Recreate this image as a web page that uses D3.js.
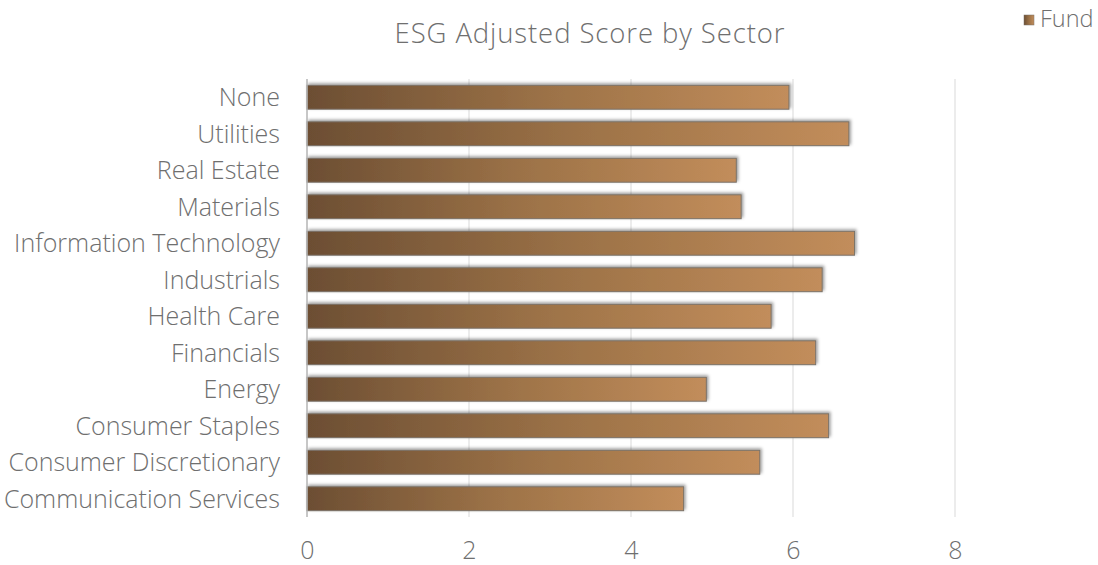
<!DOCTYPE html>
<html>
<head>
<meta charset="utf-8">
<script src="https://cdn.jsdelivr.net/npm/d3@7"></script>
<style>
  html, body { margin: 0; padding: 0; background: #fff; }
  svg { display: block; font-family: "Open Sans", sans-serif; font-weight: 300; }
</style>
</head>
<body>
<svg id="chart" width="1098" height="565"></svg>
<script>
// Sector names, top to bottom
const sectors = [
  "None", "Utilities", "Real Estate", "Materials", "Information Technology",
  "Industrials", "Health Care", "Financials", "Energy", "Consumer Staples",
  "Consumer Discretionary", "Communication Services"
];
// Fund ESG adjusted score per sector
const fundScores = [5.95, 6.69, 5.30, 5.36, 6.76, 6.36, 5.73, 6.28, 4.93, 6.44, 5.59, 4.65];
const xTicks = [0, 2, 4, 6, 8];
const seriesName = "Fund";
const chartTitle = "ESG Adjusted Score by Sector";

const svg = d3.select("#chart");
const textColor = "#6f6f6f";

const x = d3.scaleLinear().domain([0, 8]).range([307, 955]);
const y = d3.scaleBand().domain(sectors).range([79, 517]).paddingInner(0.345).paddingOuter(0.1725);

const defs = svg.append("defs");
const grad = defs.append("linearGradient").attr("id", "barFill")
  .attr("x1", "0%").attr("x2", "100%").attr("y1", "0%").attr("y2", "0%");
grad.append("stop").attr("offset", "0%").attr("stop-color", "#6c4e33");
grad.append("stop").attr("offset", "50%").attr("stop-color", "#9c7247");
grad.append("stop").attr("offset", "100%").attr("stop-color", "#c28d5b");

const shadow = defs.append("filter").attr("id", "barShadow")
  .attr("x", "-5%").attr("y", "-50%").attr("width", "110%").attr("height", "200%");
shadow.append("feDropShadow").attr("dx", 1.5).attr("dy", -1.5)
  .attr("stdDeviation", 1.8).attr("flood-color", "#000").attr("flood-opacity", 0.4);

// Vertical gridlines
svg.append("g").selectAll("line").data(xTicks.filter(d => d > 0)).join("line")
  .attr("x1", d => x(d)).attr("x2", d => x(d))
  .attr("y1", 79).attr("y2", 517)
  .attr("stroke", "#d9d9d9").attr("stroke-width", 1);

// Bars
svg.append("g").selectAll("rect").data(sectors).join("rect")
  .attr("x", x(0))
  .attr("y", d => y(d))
  .attr("width", (d, i) => x(fundScores[i]) - x(0))
  .attr("height", y.bandwidth())
  .attr("fill", "url(#barFill)")
  .attr("stroke", "#7a7269").attr("stroke-width", 1)
  .attr("filter", "url(#barShadow)");

// Category axis line
svg.append("line")
  .attr("x1", x(0)).attr("x2", x(0)).attr("y1", 79).attr("y2", 517)
  .attr("stroke", "#b5b5b5").attr("stroke-width", 1.5);

// Category labels
svg.append("g").selectAll("text").data(sectors).join("text")
  .attr("x", 280)
  .attr("y", d => y(d) + y.bandwidth() / 2 + 8.8)
  .attr("text-anchor", "end")
  .attr("font-size", 25)
  .attr("fill", textColor)
  .text(d => d);

// Value axis tick labels
const xAxis = svg.append("g").attr("transform", "translate(0,559)")
  .call(d3.axisBottom(x).tickValues(xTicks).tickSize(0).tickPadding(0));
xAxis.select(".domain").remove();
xAxis.selectAll("text")
  .attr("dy", 0).attr("y", 0)
  .attr("font-family", "Open Sans, sans-serif")
  .attr("font-weight", 300)
  .attr("font-size", 25).attr("fill", textColor);

// Title
svg.append("text")
  .attr("x", 590).attr("y", 43)
  .attr("text-anchor", "middle")
  .attr("font-size", 27.5)
  .attr("letter-spacing", 0.9)
  .attr("fill", textColor)
  .text(chartTitle);

// Legend
const legend = svg.append("g");
legend.append("rect")
  .attr("x", 1024).attr("y", 15).attr("width", 10).attr("height", 10)
  .attr("fill", "url(#barFill)").attr("stroke", "#7a7269").attr("stroke-width", 0.5);
legend.append("text")
  .attr("x", 1040).attr("y", 27)
  .attr("font-size", 23.5).attr("fill", textColor)
  .text(seriesName);
</script>
</body>
</html>
